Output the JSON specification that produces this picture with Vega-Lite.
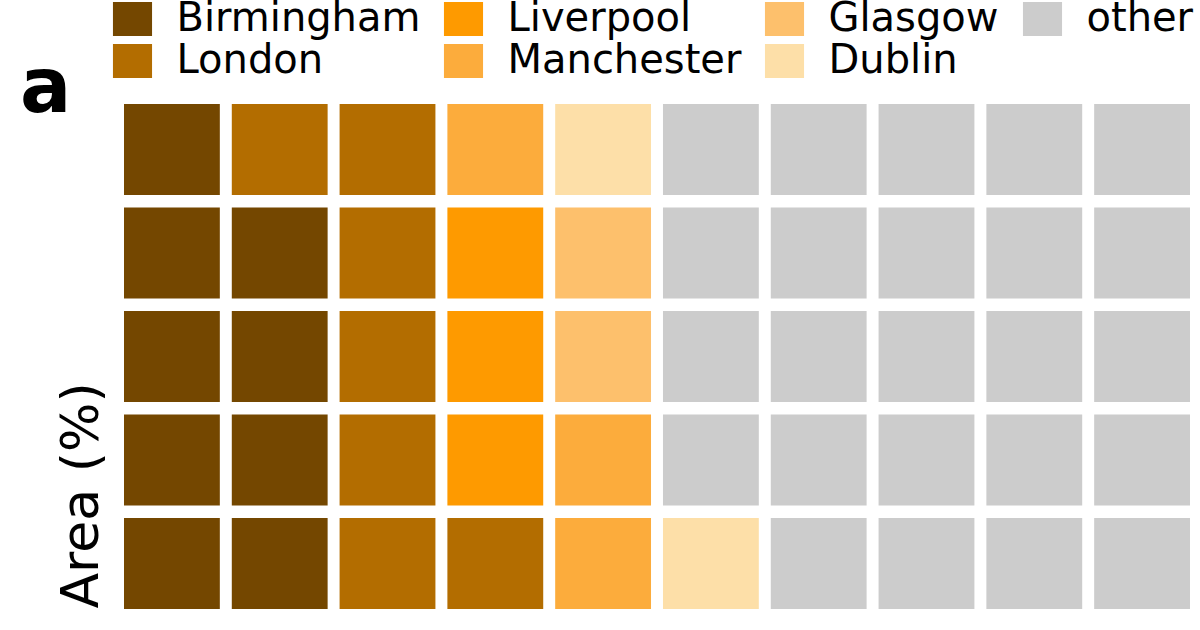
{
  "$schema": "https://vega.github.io/schema/vega-lite/v6.json",
  "width": 1066,
  "height": 505,
  "autosize": "none",
  "padding": {"left": 124, "top": 104, "right": 10, "bottom": 21},
  "background": "white",
  "title": {
    "text": "a",
    "anchor": "start",
    "frame": "group",
    "font": "DejaVu Sans",
    "fontSize": 76,
    "fontWeight": "bold",
    "color": "black",
    "baseline": "alphabetic",
    "dx": -104,
    "dy": 193
  },
  "data": {
    "values": [
      {"col": 1, "row": 1, "city": "Birmingham"},
      {"col": 2, "row": 1, "city": "London"},
      {"col": 3, "row": 1, "city": "London"},
      {"col": 4, "row": 1, "city": "Manchester"},
      {"col": 5, "row": 1, "city": "Dublin"},
      {"col": 6, "row": 1, "city": "other"},
      {"col": 7, "row": 1, "city": "other"},
      {"col": 8, "row": 1, "city": "other"},
      {"col": 9, "row": 1, "city": "other"},
      {"col": 10, "row": 1, "city": "other"},
      {"col": 1, "row": 2, "city": "Birmingham"},
      {"col": 2, "row": 2, "city": "Birmingham"},
      {"col": 3, "row": 2, "city": "London"},
      {"col": 4, "row": 2, "city": "Liverpool"},
      {"col": 5, "row": 2, "city": "Glasgow"},
      {"col": 6, "row": 2, "city": "other"},
      {"col": 7, "row": 2, "city": "other"},
      {"col": 8, "row": 2, "city": "other"},
      {"col": 9, "row": 2, "city": "other"},
      {"col": 10, "row": 2, "city": "other"},
      {"col": 1, "row": 3, "city": "Birmingham"},
      {"col": 2, "row": 3, "city": "Birmingham"},
      {"col": 3, "row": 3, "city": "London"},
      {"col": 4, "row": 3, "city": "Liverpool"},
      {"col": 5, "row": 3, "city": "Glasgow"},
      {"col": 6, "row": 3, "city": "other"},
      {"col": 7, "row": 3, "city": "other"},
      {"col": 8, "row": 3, "city": "other"},
      {"col": 9, "row": 3, "city": "other"},
      {"col": 10, "row": 3, "city": "other"},
      {"col": 1, "row": 4, "city": "Birmingham"},
      {"col": 2, "row": 4, "city": "Birmingham"},
      {"col": 3, "row": 4, "city": "London"},
      {"col": 4, "row": 4, "city": "Liverpool"},
      {"col": 5, "row": 4, "city": "Manchester"},
      {"col": 6, "row": 4, "city": "other"},
      {"col": 7, "row": 4, "city": "other"},
      {"col": 8, "row": 4, "city": "other"},
      {"col": 9, "row": 4, "city": "other"},
      {"col": 10, "row": 4, "city": "other"},
      {"col": 1, "row": 5, "city": "Birmingham"},
      {"col": 2, "row": 5, "city": "Birmingham"},
      {"col": 3, "row": 5, "city": "London"},
      {"col": 4, "row": 5, "city": "London"},
      {"col": 5, "row": 5, "city": "Manchester"},
      {"col": 6, "row": 5, "city": "Dublin"},
      {"col": 7, "row": 5, "city": "other"},
      {"col": 8, "row": 5, "city": "other"},
      {"col": 9, "row": 5, "city": "other"},
      {"col": 10, "row": 5, "city": "other"}
    ]
  },
  "mark": {"type": "rect"},
  "encoding": {
    "x": {
      "field": "col",
      "type": "ordinal",
      "scale": {"paddingInner": 0.111, "paddingOuter": 0},
      "axis": null
    },
    "y": {
      "field": "row",
      "type": "ordinal",
      "scale": {"paddingInner": 0.121, "paddingOuter": 0},
      "axis": {
        "title": "Area (%)",
        "labels": false,
        "ticks": false,
        "domain": false,
        "grid": false,
        "titleFont": "DejaVu Sans",
        "titleFontSize": 52,
        "titleFontWeight": "normal",
        "titleColor": "black",
        "titleAngle": -90,
        "titleAlign": "left",
        "titleBaseline": "alphabetic",
        "titleX": -27,
        "titleY": 504
      }
    },
    "color": {
      "field": "city",
      "type": "nominal",
      "scale": {
        "domain": ["Birmingham", "Liverpool", "Glasgow", "other", "London", "Manchester", "Dublin"],
        "range": ["#744700", "#fe9a00", "#fdc06c", "#cccccc", "#b36d00", "#fcac3c", "#fddfa8"]
      },
      "legend": {
        "title": null,
        "orient": "none",
        "legendX": -11.5,
        "legendY": -105,
        "direction": "horizontal",
        "columns": 4,
        "gridAlign": "each",
        "columnPadding": 23,
        "rowPadding": 2,
        "symbolType": "M-1.15,-1H1.15V1H-1.15Z",
        "symbolSize": 1156,
        "symbolStrokeWidth": 0,
        "symbolOpacity": 1,
        "labelFont": "DejaVu Sans",
        "labelFontSize": 40,
        "labelColor": "black",
        "labelOffset": 24,
        "labelLimit": 400,
        "padding": 0
      }
    }
  },
  "config": {
    "view": {"stroke": null}
  }
}
